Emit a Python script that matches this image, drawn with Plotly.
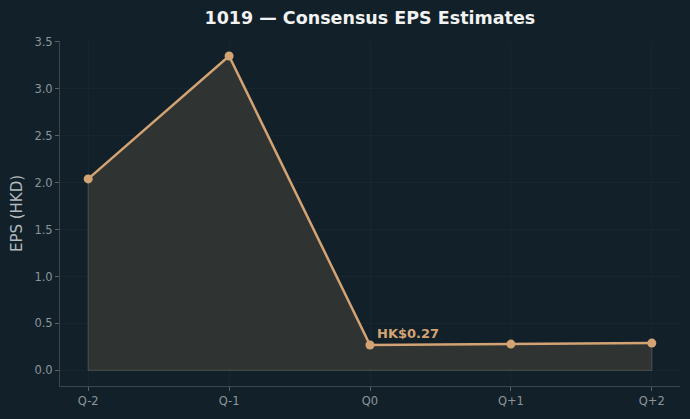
import plotly.graph_objects as go

quarters = ["Q-2", "Q-1", "Q0", "Q+1", "Q+2"]
eps = [2.04, 3.35, 0.27, 0.28, 0.29]
label_idx = 2
label_text = "HK$0.27"

BG = "#112029"
LINE = "#d4a373"
FILL = "rgba(58,58,54,0.75)"

fig = go.Figure()
# shaded area polygon
poly_x = [quarters[0]] + quarters + [quarters[-1], quarters[0]]
poly_y = [0] + eps + [0, 0]
fig.add_trace(go.Scatter(x=poly_x, y=poly_y, mode="lines", fill="toself",
                         fillcolor=FILL, line=dict(color="rgba(90,90,85,0.8)", width=1),
                         hoverinfo="skip", showlegend=False))
fig.add_trace(go.Scatter(x=quarters, y=eps, mode="lines+markers",
                         line=dict(color=LINE, width=2.5),
                         marker=dict(color=LINE, size=9),
                         showlegend=False))
fig.add_annotation(x=quarters[label_idx], y=eps[label_idx], text="<b>" + label_text + "</b>",
                   showarrow=False, xanchor="left", yanchor="bottom", xshift=5, yshift=2,
                   font=dict(color=LINE, size=13, family="DejaVu Sans"))

axis_common = dict(showline=True, linecolor="#3d474b", linewidth=1, ticks="outside",
                   tickcolor="#5a6468", ticklen=4, gridcolor="rgba(255,255,255,0.025)",
                   tickfont=dict(color="#8c959a", size=11.5, family="DejaVu Sans"),
                   zeroline=False, mirror=False)
fig.update_xaxes(type="category", range=[-0.2, 4.2], **axis_common)
fig.update_yaxes(range=[-0.167, 3.51], tickvals=[0, 0.5, 1, 1.5, 2, 2.5, 3, 3.5],
                 ticktext=["0.0", "0.5", "1.0", "1.5", "2.0", "2.5", "3.0", "3.5"],
                 title=dict(text="EPS (HKD)", font=dict(color="#b3bbbf", size=15, family="DejaVu Sans"),
                            standoff=8),
                 **axis_common)
fig.update_layout(
    width=690, height=419,
    paper_bgcolor=BG, plot_bgcolor=BG,
    margin=dict(l=60, r=10, t=41, b=33),
    title=dict(text="<b>1019 — Consensus EPS Estimates</b>", x=0.536, xanchor="center",
               y=0.957, yanchor="middle",
               font=dict(color="#f2f2f2", size=17.5, family="DejaVu Sans")),
)
fig.write_html("out.html")
